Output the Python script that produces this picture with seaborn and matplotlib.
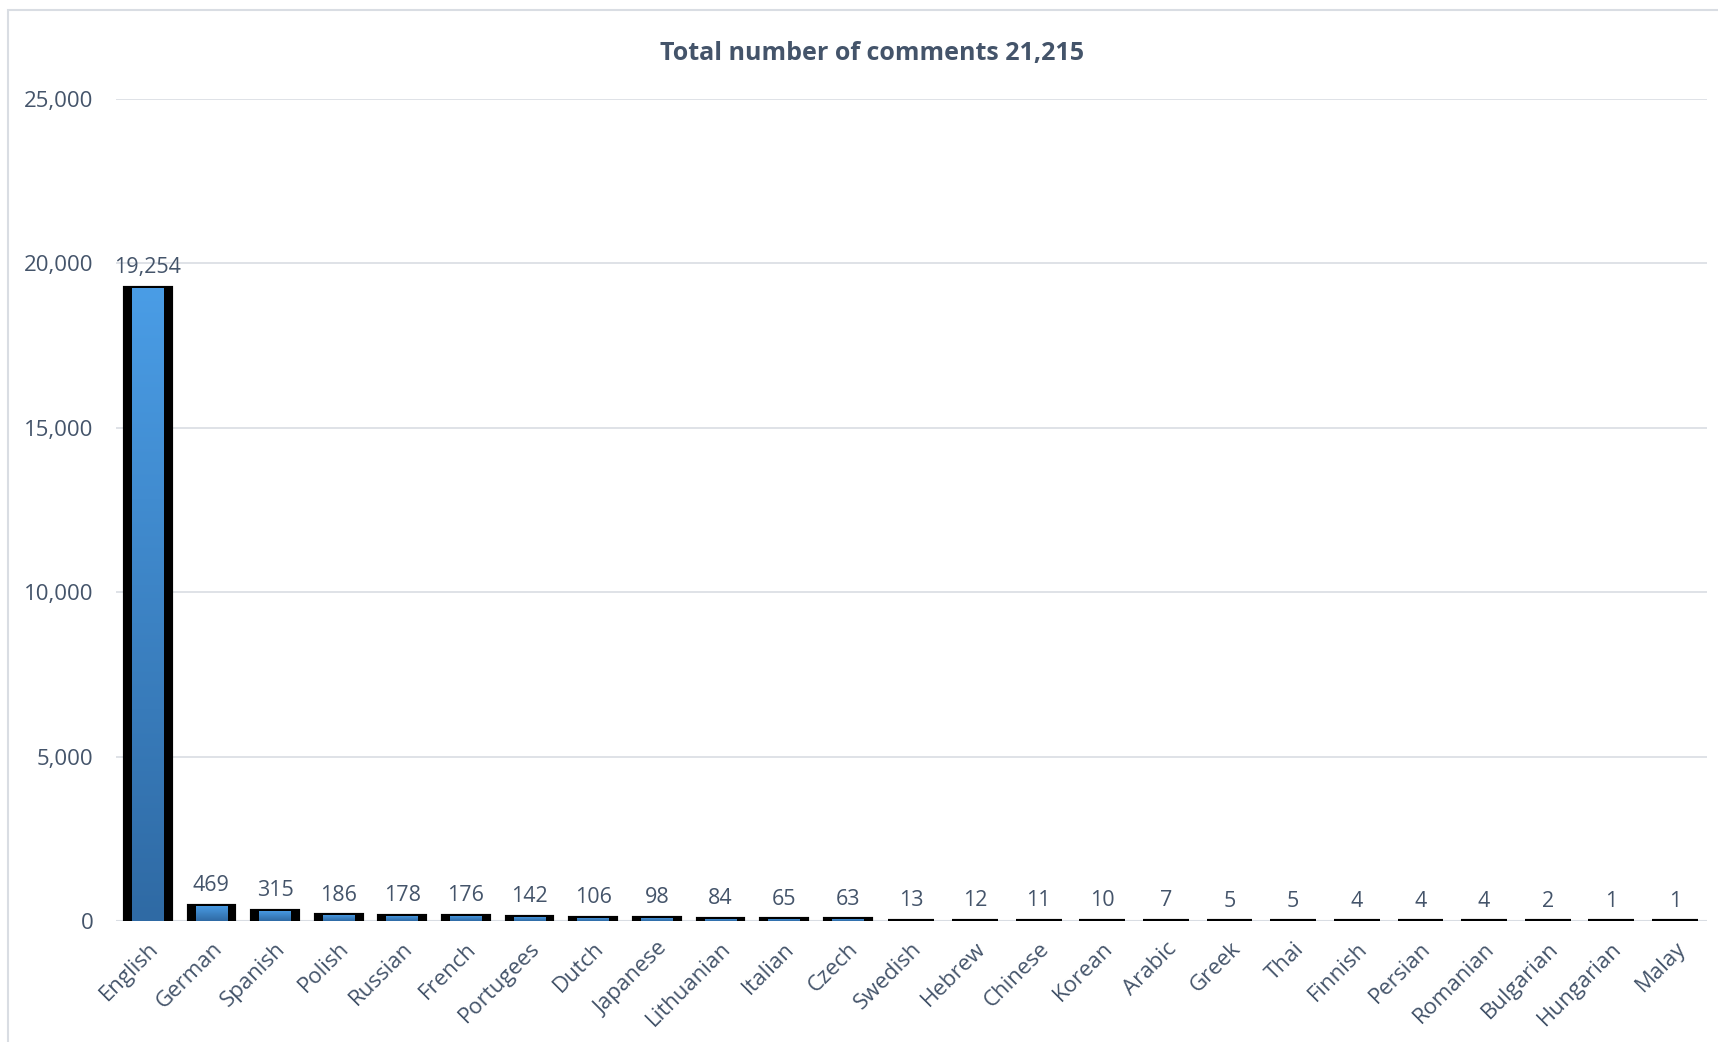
import numpy as np
import pandas as pd
import matplotlib
matplotlib.use("Agg")
import matplotlib.pyplot as plt
import seaborn as sns
from matplotlib.patches import Rectangle
from matplotlib.colors import LinearSegmentedColormap
from matplotlib.ticker import FuncFormatter

# data
languages = ["English", "German", "Spanish", "Polish", "Russian", "French", "Portugees",
             "Dutch", "Japanese", "Lithuanian", "Italian", "Czech", "Swedish", "Hebrew",
             "Chinese", "Korean", "Arabic", "Greek", "Thai", "Finnish", "Persian",
             "Romanian", "Bulgarian", "Hungarian", "Malay"]
comments = [19254, 469, 315, 186, 178, 176, 142, 106, 98, 84, 65, 63, 13, 12,
            11, 10, 7, 5, 5, 4, 4, 4, 2, 1, 1]
y_ticks = [0, 5000, 10000, 15000, 20000, 25000]
title = "Total number of comments 21,215"

df = pd.DataFrame({"language": languages, "comments": comments})

text_col = "#44546a"
grid_col = "#d9dde3"

sns.set_theme(style="white")
plt.rcParams["font.family"] = ["Open Sans", "DejaVu Sans"]

fig = plt.figure(figsize=(17.18, 10.42), dpi=100)
ax = fig.add_axes([0.0675, 0.1157, 0.926, 0.7897])

# outer frame
fig.patches.append(Rectangle((8 / 1718, -0.01), 1.1, 1 - 10 / 1042 + 0.01,
                             transform=fig.transFigure, fill=False,
                             edgecolor=grid_col, linewidth=1.5))

# black outer bars and blue inner bars
sns.barplot(data=df, x="language", y="comments", color="black", width=0.72,
            saturation=1, edgecolor="black", linewidth=3, ax=ax, zorder=3)
sns.barplot(data=df, x="language", y="comments", color="#4593dc", width=0.5,
            saturation=1, linewidth=0, ax=ax, zorder=4)

# vertical gradient on the inner bars
cmap = LinearSegmentedColormap.from_list("blu", ["#2f6aa4", "#4a9de6"])
grad = np.linspace(0, 1, 256).reshape(-1, 1)
for p in ax.containers[1]:
    x0, y0 = p.get_x(), p.get_y()
    w, h = p.get_width(), p.get_height()
    if h <= 0:
        continue
    im = ax.imshow(grad, cmap=cmap, origin="lower", aspect="auto",
                   extent=[x0, x0 + w, y0, y0 + h], zorder=5)
    im.set_clip_path(p)

ax.bar_label(ax.containers[0], labels=[f"{v:,}" for v in comments], padding=7,
             fontsize=15.5, color=text_col)

ax.set_xlim(-0.5, len(languages) - 0.5)
ax.set_ylim(0, 25000)
ax.set_yticks(y_ticks)
ax.yaxis.set_major_formatter(FuncFormatter(lambda v, _: f"{int(v):,}"))
ax.yaxis.grid(True, color=grid_col, linewidth=1.2, zorder=0)
ax.set_axisbelow(True)
for s in ax.spines.values():
    s.set_visible(False)
ax.axhline(0, color=grid_col, linewidth=1.5, zorder=2)

ax.tick_params(axis="y", length=0, pad=16, labelsize=16, labelcolor=text_col)
ax.tick_params(axis="x", length=0, pad=12, labelsize=16, labelcolor=text_col)
plt.setp(ax.get_xticklabels(), rotation=45, ha="right", rotation_mode="anchor")
ax.set_xlabel("")
ax.set_ylabel("")

fig.text(0.5076, 0.949, title, ha="center", va="center",
         fontsize=18, fontweight="bold", color=text_col)

fig.savefig("out.png", dpi=100, facecolor="white")
